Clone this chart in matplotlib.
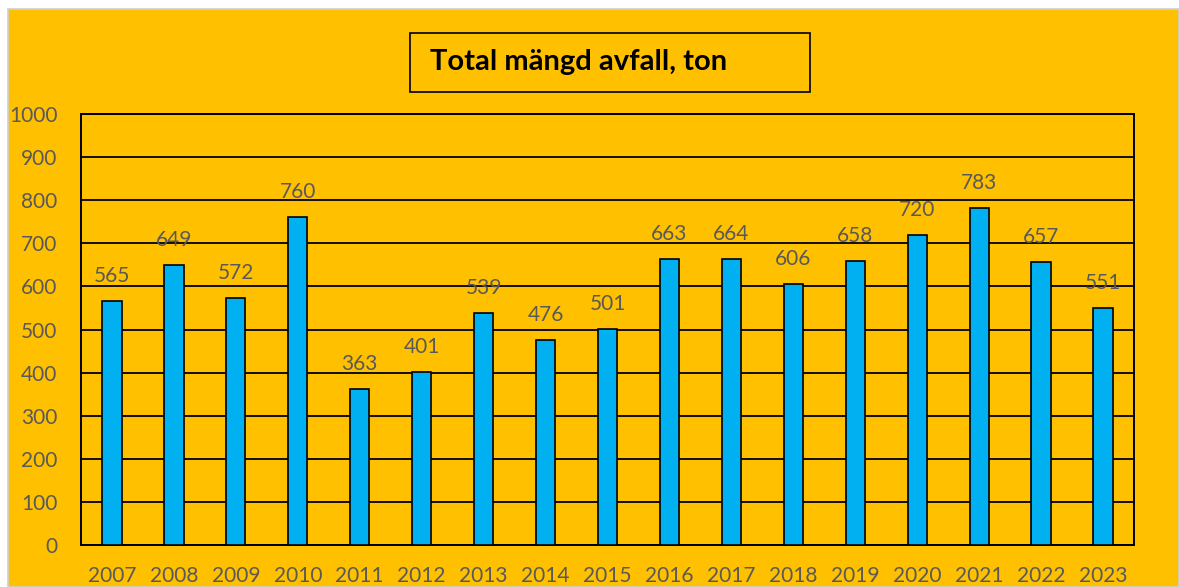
import matplotlib
matplotlib.use("Agg")
import matplotlib.pyplot as plt
from matplotlib.patches import Rectangle

years = ["2007", "2008", "2009", "2010", "2011", "2012", "2013", "2014", "2015",
         "2016", "2017", "2018", "2019", "2020", "2021", "2022", "2023"]
values = [565, 649, 572, 760, 363, 401, 539, 476, 501,
          663, 664, 606, 658, 720, 783, 657, 551]
yticks = [0, 100, 200, 300, 400, 500, 600, 700, 800, 900, 1000]
title = "Total mängd avfall, ton"

W, H = 1179, 587
plt.rcParams['font.family'] = ['Lato', 'DejaVu Sans']
fig = plt.figure(figsize=(W/100, H/100), dpi=100)
fig.patch.set_facecolor("white")

orange = "#FFC000"
fig.patches.append(Rectangle((8/W, 0), 1 - 8/W, (H - 9)/H, transform=fig.transFigure,
                             facecolor=orange, edgecolor="#D0D0D0", linewidth=1.2, zorder=-5))

ax = fig.add_axes([81/W, (H-545)/H, (1134-81)/W, (545-114)/H])
ax.set_zorder(1)
ax.set_facecolor(orange)
x = range(len(years))
bars = ax.bar(x, values, width=0.31, color="#00B0F0", edgecolor="black", linewidth=1.2, zorder=3)
ax.set_xlim(-0.5, len(years) - 0.5)
ax.set_ylim(0, 1000)
ax.set_yticks(yticks)
ax.set_yticklabels([str(t) for t in yticks])
ax.set_xticks(list(x))
ax.set_xticklabels(years)
ax.yaxis.grid(True, color="black", linewidth=1.3, zorder=1)
ax.set_axisbelow(True)
for s in ax.spines.values():
    s.set_color("black")
    s.set_linewidth(1.4)
ax.tick_params(axis='both', length=0, labelsize=15, labelcolor="#595959")
ax.tick_params(axis='x', pad=15)
ax.tick_params(axis='y', pad=17)

for xi, v in zip(x, values):
    ax.annotate(str(v), (xi, v), xytext=(0, 18), textcoords="offset points",
                ha="center", va="center", fontsize=15, color="#595959", zorder=4)

fig.patches.append(Rectangle((410/W, (H-92)/H), 400/W, 59/H, transform=fig.transFigure,
                             facecolor=orange, edgecolor="black", linewidth=1.2, zorder=2))
fig.text(430/W, (H-62)/H, title, ha="left", va="center", fontsize=21, fontweight="bold",
         color="black", zorder=3)

fig.savefig("out.png", dpi=100, facecolor=fig.get_facecolor())
